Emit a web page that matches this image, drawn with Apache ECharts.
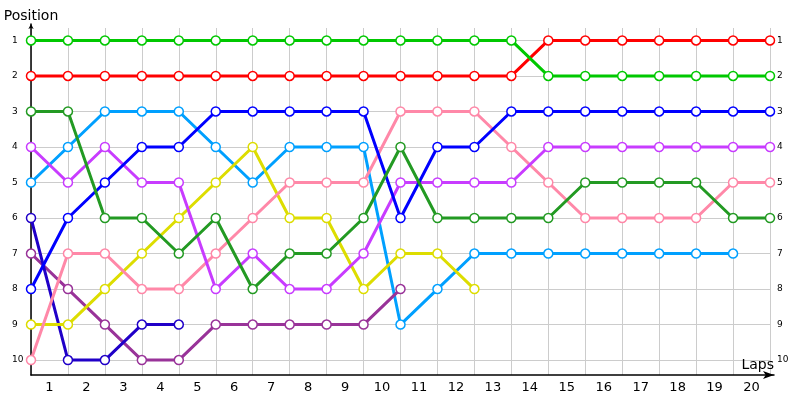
<!DOCTYPE html>
<html>
<head>
<meta charset="utf-8">
<script src="https://cdn.jsdelivr.net/npm/echarts@6/dist/echarts.min.js"></script>
<style>
  html, body { margin: 0; padding: 0; background: #fff; }
  #chart { width: 800px; height: 400px; }
</style>
</head>
<body>
<div id="chart"></div>
<script>
// lap labels shown under the axis, positions 1..10
const lapLabels = ['1', '2', '3', '4', '5', '6', '7', '8', '9', '10',
                   '11', '12', '13', '14', '15', '16', '17', '18', '19', '20'];
const positions = [1, 2, 3, 4, 5, 6, 7, 8, 9, 10];

// position of each driver at lap index 0..20 (shorter arrays = retired)
const limeGreen  = [1, 1, 1, 1, 1, 1, 1, 1, 1, 1, 1, 1, 1, 1, 2, 2, 2, 2, 2, 2, 2];
const red        = [2, 2, 2, 2, 2, 2, 2, 2, 2, 2, 2, 2, 2, 2, 1, 1, 1, 1, 1, 1, 1];
const darkGreen  = [3, 3, 6, 6, 7, 6, 8, 7, 7, 6, 4, 6, 6, 6, 6, 5, 5, 5, 5, 6, 6];
const skyBlue    = [5, 4, 3, 3, 3, 4, 5, 4, 4, 4, 9, 8, 7, 7, 7, 7, 7, 7, 7, 7];
const blue       = [8, 6, 5, 4, 4, 3, 3, 3, 3, 3, 6, 4, 4, 3, 3, 3, 3, 3, 3, 3, 3];
const violet     = [4, 5, 4, 5, 5, 8, 7, 8, 8, 7, 5, 5, 5, 5, 4, 4, 4, 4, 4, 4, 4];
const pink       = [10, 7, 7, 8, 8, 7, 6, 5, 5, 5, 3, 3, 3, 4, 5, 6, 6, 6, 6, 5, 5];
const yellow     = [9, 9, 8, 7, 6, 5, 4, 6, 6, 8, 7, 7, 8];
const indigo     = [6, 10, 10, 9, 9];
const plum       = [7, 8, 9, 10, 10, 9, 9, 9, 9, 9, 8];

const drivers = [
  { data: skyBlue,   color: '#00a0ff' },
  { data: plum,      color: '#993399' },
  { data: indigo,    color: '#2000c8' },
  { data: yellow,    color: '#dddd00' },
  { data: pink,      color: '#ff88a8' },
  { data: violet,    color: '#c83cff' },
  { data: blue,      color: '#0000ff' },
  { data: darkGreen, color: '#239a23' },
  { data: red,       color: '#ff0000' },
  { data: limeGreen, color: '#00c800' }
];

const FONT = 'DejaVu Sans';
const yMin = 0.65, yMax = 10.42;

const chart = echarts.init(document.getElementById('chart'), null, { renderer: 'canvas' });

chart.setOption({
  animation: false,
  backgroundColor: '#fff',
  textStyle: { fontFamily: FONT },
  grid: [
    { left: 31, right: 30, top: 28, bottom: 25 },
    { left: 31, right: 26, top: 24, bottom: 25 }
  ],
  xAxis: [
    {
      type: 'value', gridIndex: 0, min: 0, max: 20, interval: 1,
      axisLine: { show: false }, axisTick: { show: false }, axisLabel: { show: false },
      splitLine: { show: true, lineStyle: { color: '#cccccc', width: 1 } }
    },
    {
      type: 'category', gridIndex: 0, data: lapLabels, boundaryGap: true, position: 'bottom',
      axisLine: { show: false }, axisTick: { show: false }, splitLine: { show: false },
      axisLabel: { color: '#000', fontSize: 13, margin: 6, fontFamily: FONT }
    },
    {
      type: 'value', gridIndex: 1, min: 0, max: 1,
      axisLine: { show: true, symbol: ['none', 'arrow'], symbolSize: [6, 11],
                  lineStyle: { color: '#000', width: 1.5 } },
      axisTick: { show: false }, axisLabel: { show: false }, splitLine: { show: false },
      name: 'Laps', nameLocation: 'end', nameGap: 0,
      nameTextStyle: { color: '#000', fontSize: 14, fontFamily: FONT,
                       align: 'right', verticalAlign: 'bottom', padding: [0, 0, 3, 0] }
    }
  ],
  yAxis: [
    {
      type: 'value', gridIndex: 0, inverse: true, min: yMin, max: yMax,
      axisLine: { show: false },
      axisTick: { show: false, customValues: positions },
      axisLabel: { customValues: positions, color: '#000', fontSize: 9, margin: 19,
                   align: 'left', fontFamily: FONT },
      splitLine: { show: true, lineStyle: { color: '#cccccc', width: 1 } }
    },
    {
      type: 'value', gridIndex: 0, inverse: true, min: yMin, max: yMax, position: 'right',
      axisLine: { show: false },
      axisTick: { show: false, customValues: positions },
      axisLabel: { customValues: positions, color: '#000', fontSize: 9, margin: 7,
                   align: 'left', fontFamily: FONT },
      splitLine: { show: false }
    },
    {
      type: 'value', gridIndex: 1, min: 0, max: 1,
      axisLine: { show: true, symbol: ['none', 'arrow'], symbolSize: [4, 5],
                  lineStyle: { color: '#000', width: 1.5 } },
      axisTick: { show: false }, axisLabel: { show: false }, splitLine: { show: false },
      name: 'Position', nameLocation: 'end', nameGap: 1,
      nameTextStyle: { color: '#000', fontSize: 14, fontFamily: FONT }
    }
  ],
  series: drivers.map(d => ({
    type: 'line',
    xAxisIndex: 0,
    yAxisIndex: 0,
    data: d.data.map((p, i) => [i, p]),
    symbol: 'circle',
    symbolSize: 9,
    showAllSymbol: true,
    lineStyle: { color: d.color, width: 3 },
    itemStyle: { color: '#fff', borderColor: d.color, borderWidth: 1.5 },
    emphasis: { disabled: true }
  }))
});
</script>
</body>
</html>
